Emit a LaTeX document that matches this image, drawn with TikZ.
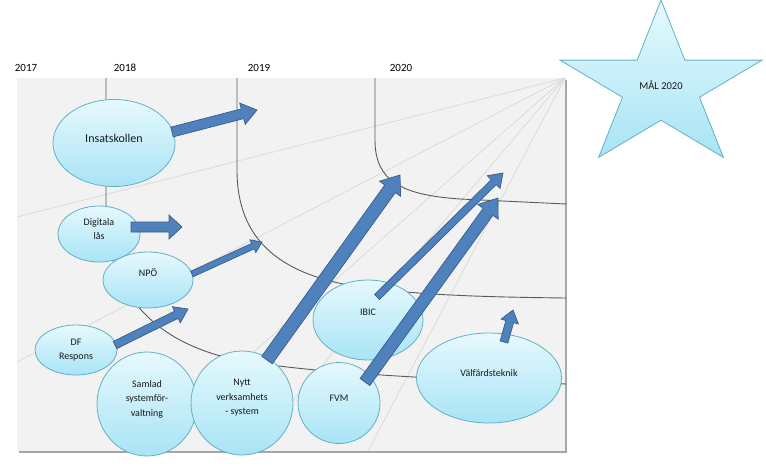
\documentclass[tikz,border=0pt]{standalone}
\usepackage{fontspec}
\setmainfont{Carlito}
\usetikzlibrary{calc,shapes.geometric}

\definecolor{panel}{HTML}{F2F2F2}
\definecolor{raygray}{HTML}{D9D9D9}
\definecolor{yeargray}{HTML}{5A5A5A}
\definecolor{bubtop}{HTML}{E6F9FD}
\definecolor{bubbot}{HTML}{A8E4F6}
\definecolor{bubline}{HTML}{63B0C6}
\definecolor{arrowfill}{HTML}{4F81BD}
\definecolor{arrowline}{HTML}{385D8A}

\tikzset{
  bubble/.style={ellipse, draw=bubline, line width=0.8pt, top color=bubtop, bottom color=bubbot, inner sep=0pt},
  bsize/.style 2 args={minimum width=#1pt, minimum height=#2pt},
  txt/.style={align=center, text=black!90, font=\fontsize{10}{14.5}\selectfont, yshift=5pt},
  barrow/.style={fill=arrowfill, draw=arrowline, line width=0.7pt},
  ray/.style={draw=raygray, line width=0.7pt},
  yearline/.style={draw=yeargray, line width=0.9pt},
  yearlbl/.style={font=\fontsize{11}{13}\selectfont, text=black}
}

% block arrow: start, tip, half shaft, half head, head length
\newcommand{\blockarrow}[5]{%
  \coordinate (ba-s) at (#1);
  \coordinate (ba-e) at (#2);
  \coordinate (ba-h) at ($(ba-e)!#5!(ba-s)$);
  \filldraw[barrow] ($(ba-s)!#3!90:(ba-e)$) -- ($(ba-h)!#3!-90:(ba-s)$)
    -- ($(ba-h)!#4!-90:(ba-s)$) -- (ba-e) -- ($(ba-h)!#4!90:(ba-s)$)
    -- ($(ba-h)!#3!90:(ba-s)$) -- ($(ba-s)!#3!-90:(ba-e)$) -- cycle;}

\begin{document}
\begin{tikzpicture}[x=1pt, y=-1pt]
    \useasboundingbox (0,0) rectangle (766,471);

    % Background panel
    \fill[panel] (17,78) rectangle (566,452);
    \draw[black!35, line width=1.4pt] (566,80) -- (566,452) -- (19,452);

    % Rays from the goal corner
    \foreach \ex/\ey in {17/217, 17/362, 141/451, 250/451, 368/451}
        \draw[ray] (565,78) -- (\ex,\ey);

    % Year boundaries
    \draw[yearline] (106,78) -- (106,205) .. controls (106,290) and (150,335) .. (217,355)
        .. controls (260,366) and (330,375) .. (566,384);
    \draw[yearline] (237,78) -- (237,170) .. controls (237,240) and (280,275) .. (360,287)
        .. controls (420,295) and (480,297) .. (566,298);
    \draw[yearline] (375,78) -- (375,140) .. controls (375,180) and (400,195) .. (460,199) -- (566,204);

    % Years
    \node[yearlbl] (y2017) at (26,68) {2017};
    \node[yearlbl] (y2018) at (125,68) {2018};
    \node[yearlbl] (y2019) at (259,68) {2019};
    \node[yearlbl] (y2020) at (401,68) {2020};

    % Projects
    \node[bubble, bsize={122}{87}, label={[txt, font=\fontsize{12}{14}\selectfont]center:Insatskollen}] (ins) at (114,143) {};
    \node[bubble, bsize={82}{56}, label={[txt]center:Digitala\\lås}] (dig) at (99,234) {};
    \node[bubble, bsize={90}{56}, label={[txt, yshift=2pt]center:NPÖ}] (npo) at (148,280) {};
    \node[bubble, bsize={82}{50}, label={[txt, yshift=-5pt]center:DF\\Respons}] (dfr) at (76,350) {};
    \node[bubble, bsize={100}{104}, label={[txt]center:Samlad\\systemför-\\valtning}] (sam) at (147,404) {};
    \node[bubble, bsize={102}{104}, label={[txt]center:Nytt\\verksamhets\\- system}] (nyt) at (242,403) {};
    \node[bubble, bsize={110}{80}, label={[txt, yshift=3pt]center:IBIC}] (ibic) at (368,320) {};
    \node[bubble, bsize={82}{81}, label={[txt]center:FVM}] (fvm) at (339,403) {};
    \node[bubble, bsize={145}{90}, label={[txt]center:Välfärdsteknik}] (vtk) at (489,378) {};

    % Arrows towards the goal
    \coordinate (t-ins) at (257,110);
    \coordinate (t-dig) at (182,227);
    \coordinate (t-npo) at (262,242);
    \coordinate (t-dfr) at (188,309);
    \coordinate (t-nyt) at (400,175);
    \coordinate (t-ibic) at (503,173);
    \coordinate (t-fvm) at (498,198);
    \coordinate (t-vtk) at (513,310);
    \blockarrow{$(ins.center)+(58,-11)$}{t-ins}{5pt}{11pt}{15pt}
    \blockarrow{$(dig.center)+(32,-7)$}{t-dig}{5pt}{12pt}{13pt}
    \blockarrow{$(npo.center)+(44,-6)$}{t-npo}{3pt}{7pt}{10pt}
    \blockarrow{$(dfr.center)+(39,-5)$}{t-dfr}{4pt}{9pt}{13pt}
    \blockarrow{$(nyt.center)+(25,-43)$}{t-nyt}{6.5pt}{13pt}{17pt}
    \blockarrow{$(ibic.center)+(9,-23)$}{t-ibic}{3.5pt}{9pt}{13pt}
    \blockarrow{$(fvm.center)+(26,-21)$}{t-fvm}{6pt}{12.5pt}{17pt}
    \blockarrow{$(vtk.center)+(15,-36)$}{t-vtk}{4pt}{9pt}{12pt}

    % Goal star
    \begin{scope}[shift={(661,87)}, xscale=1.22]
        \draw[draw=bubline, line width=0.8pt, top color=bubtop, bottom color=bubbot]
            (-90:87) \foreach \a in {0,72,...,288}{ -- (-90+\a:87) -- (-54+\a:33.2)} -- cycle;
    \end{scope}
    \node[font=\fontsize{10.5}{12}\selectfont, text=black!90] (goal) at (661,85) {MÅL 2020};
\end{tikzpicture}
\end{document}
